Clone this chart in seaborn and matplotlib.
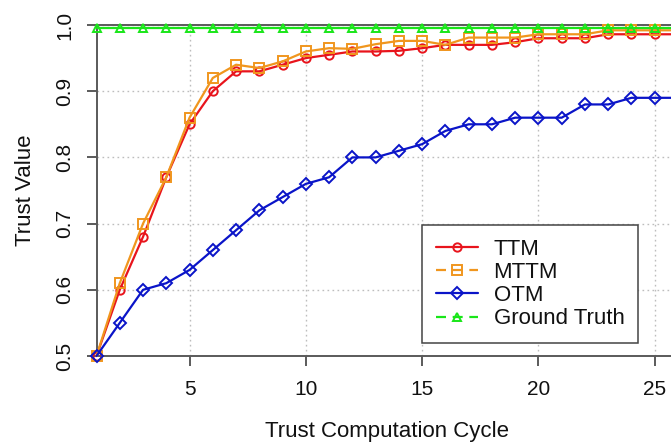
import matplotlib
matplotlib.use("Agg")
import matplotlib.pyplot as plt
from matplotlib.lines import Line2D
import numpy as np
import pandas as pd
import seaborn as sns

# Trust values per computation cycle
cycles = list(range(1, 27))
ttm = [0.50, 0.60, 0.68, 0.77, 0.85, 0.90, 0.93, 0.93, 0.94, 0.95, 0.955, 0.96, 0.96,
       0.961, 0.965, 0.97, 0.97, 0.97, 0.974, 0.98, 0.98, 0.98, 0.986, 0.986, 0.986, 0.986]
mttm = [0.50, 0.61, 0.70, 0.77, 0.86, 0.92, 0.94, 0.935, 0.945, 0.96, 0.965, 0.964, 0.971,
        0.976, 0.976, 0.97, 0.981, 0.981, 0.981, 0.986, 0.986, 0.986, 0.992, 0.992, 0.992, 0.992]
otm = [0.50, 0.55, 0.60, 0.61, 0.63, 0.66, 0.69, 0.72, 0.74, 0.76, 0.77, 0.80, 0.80,
       0.81, 0.82, 0.84, 0.85, 0.85, 0.86, 0.86, 0.86, 0.88, 0.88, 0.89, 0.89, 0.89]
ground_truth = [0.995] * 26

series_names = ["TTM", "MTTM", "OTM", "Ground Truth"]
series_values = [ttm, mttm, otm, ground_truth]
colors = ["#E8141C", "#F0961E", "#0A14C8", "#19E619"]
markers = ["o", "s", "D", "^"]
marker_sizes = [6, 6.5, 6, 6]
legend_styles = ["-", (0, (4.5, 3)), "-", (0, (4.5, 3))]

x_ticks = [5, 10, 15, 20, 25]
y_ticks = [0.5, 0.6, 0.7, 0.8, 0.9, 1.0]
y_tick_labels = ["0.5", "0.6", "0.7", "0.8", "0.9", "1.0"]

sns.set_theme(style="white")
plt.rcParams["font.family"] = ["Liberation Sans", "DejaVu Sans"]

W, H = 671, 445
fig = plt.figure(figsize=(W / 100, H / 100), dpi=100)
left, right, top, bottom = 96.5, 678, 25, 356
ax = fig.add_axes([left / W, (H - bottom) / H, (right - left) / W, (bottom - top) / H])

df = pd.DataFrame({"cycle": cycles})
for name, vals in zip(series_names, series_values):
    df[name] = vals

for name, col, mk, ms in zip(series_names, colors, markers, marker_sizes):
    sns.lineplot(data=df, x="cycle", y=name, ax=ax, color=col, lw=1.6,
                 marker=mk, markersize=ms, markerfacecolor="none",
                 markeredgecolor=col, markeredgewidth=1.4, legend=False,
                 clip_on=False, zorder=3)

ax.set_xlim(1, 26)
ax.set_ylim(0.5, 1.0)
ax.set_xticks(x_ticks)
ax.set_xticklabels([str(t) for t in x_ticks])
ax.set_yticks(y_ticks)
ax.set_yticklabels(y_tick_labels, rotation=90, va="center")

ax.grid(True, color="#BDBDBD", linestyle=(0, (1.2, 2.4)), linewidth=1.0)
ax.set_axisbelow(True)

spine_color = "#5A5A5A"
for s in ax.spines.values():
    s.set_color(spine_color)
    s.set_linewidth(1.4)
ax.tick_params(axis="both", which="major", direction="out", length=7.2, width=1.4,
               color=spine_color, labelsize=15, labelcolor="#111111",
               left=True, bottom=True)
ax.tick_params(axis="y", pad=9)
ax.tick_params(axis="x", pad=10)

ax.set_xlabel("Trust Computation Cycle", fontsize=16, color="#111111")
ax.set_ylabel("Trust Value", fontsize=16, color="#111111")
ax.xaxis.set_label_coords(0.5, -0.195)
ax.yaxis.set_label_coords(-0.104, 0.5)

handles = [Line2D([0], [0], color=c, lw=1.6, linestyle=ls, marker=m, markersize=ms,
                  markerfacecolor="none", markeredgecolor=c, markeredgewidth=1.4)
           for c, ls, m, ms in zip(colors, legend_styles, markers, marker_sizes)]
leg = ax.legend(handles, series_names, loc="upper left",
                bbox_to_anchor=((422 - left) / (right - left), (bottom - 225) / (bottom - top)),
                borderaxespad=0, fontsize=16, frameon=True, fancybox=False,
                handlelength=1.9, handletextpad=0.7, labelspacing=0.1,
                borderpad=0.62)
leg.get_frame().set_edgecolor("#444444")
leg.get_frame().set_linewidth(1.1)
leg.get_frame().set_facecolor("white")
leg.get_frame().set_alpha(1)
for t in leg.get_texts():
    t.set_color("#111111")

fig.savefig("out.png", dpi=100)
